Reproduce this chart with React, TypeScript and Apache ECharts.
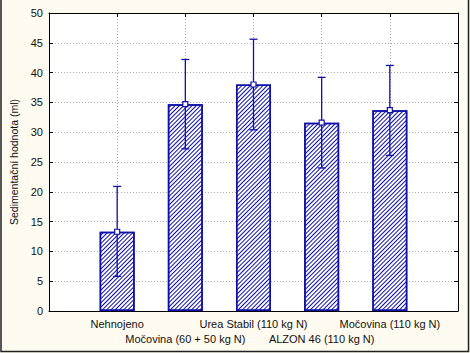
import React, { useEffect, useRef } from "react";
import * as echarts from "echarts";

const categories = [
  "Nehnojeno",
  "Močovina (60 + 50 kg N)",
  "Urea Stabil (110 kg N)",
  "ALZON 46 (110 kg N)",
  "Močovina (110 kg N)",
];
const positions = [1, 2, 3, 4, 5];
const means = [13.3, 34.7, 38.0, 31.6, 33.7];
const upper = [20.9, 42.2, 45.6, 39.2, 41.2];
const lower = [5.8, 27.2, 30.4, 24.0, 26.1];
const yTicks = { min: 0, max: 50, interval: 5 };

const BLUE = "#1010a8";

export default function App() {
  const ref = useRef<HTMLDivElement>(null);
  useEffect(() => {
    if (!ref.current) return;
    const chart = echarts.init(ref.current, null, { renderer: "svg" });
    const font = "Liberation Sans, Arial, sans-serif";
    const barData = positions.map((p, i) => [p, means[i]]);
    const errData = positions.map((p, i) => [p, lower[i], upper[i], means[i]]);
    chart.setOption({
      animation: false,
      backgroundColor: "#fffbf0",
      textStyle: { fontFamily: font },
      grid: {
        left: 45,
        right: 12,
        top: 13,
        bottom: 42,
        show: true,
        backgroundColor: "#ffffff",
        borderWidth: 0,
      },
      xAxis: [
        {
          type: "value",
          min: 0,
          max: 6,
          interval: 1,
          axisLine: { show: true, onZero: false, lineStyle: { color: "#000", width: 1 } },
          axisTick: { show: true, inside: true, length: 4, lineStyle: { color: "#000" } },
          splitLine: { show: true, lineStyle: { color: "#a8a8a8", type: [1, 2], width: 1 } },
          axisLabel: {
            color: "#111",
            fontSize: 11,
            fontFamily: font,
            margin: 5,
            lineHeight: 15,
            formatter: (v: number) => {
              const i = positions.indexOf(Math.round(v));
              if (i < 0) return "";
              return i % 2 === 0 ? categories[i] : "\n" + categories[i];
            },
          },
        },
        {
          type: "value",
          position: "top",
          min: 0,
          max: 6,
          interval: 1,
          axisLine: { show: true, onZero: false, lineStyle: { color: "#000", width: 1 } },
          axisTick: { show: true, inside: true, length: 4, lineStyle: { color: "#000" } },
          splitLine: { show: false },
          axisLabel: { show: false },
        },
      ],
      yAxis: [
        {
          type: "value",
          min: yTicks.min,
          max: yTicks.max,
          interval: yTicks.interval,
          name: "Sedimentační hodnota (ml)",
          nameLocation: "middle",
          nameGap: 30,
          nameTextStyle: { color: "#111", fontSize: 10.5, fontFamily: font },
          axisLine: { show: true, onZero: false, lineStyle: { color: "#000", width: 1 } },
          axisTick: { show: true, inside: true, length: 4, lineStyle: { color: "#000" } },
          splitLine: { show: true, lineStyle: { color: "#a8a8a8", type: [1, 2], width: 1 } },
          axisLabel: { color: "#111", fontSize: 11, fontFamily: font, margin: 6 },
        },
        {
          type: "value",
          position: "right",
          min: yTicks.min,
          max: yTicks.max,
          interval: yTicks.interval,
          axisLine: { show: true, onZero: false, lineStyle: { color: "#000", width: 1 } },
          axisTick: { show: true, inside: true, length: 4, lineStyle: { color: "#000" } },
          splitLine: { show: false },
          axisLabel: { show: false },
        },
      ],
      series: [
        {
          type: "bar",
          xAxisIndex: 0,
          yAxisIndex: 0,
          data: barData,
          barWidth: 35,
          itemStyle: {
            color: "#ffffff",
            borderColor: BLUE,
            borderWidth: 1.5,
            decal: {
              symbol: "rect",
              symbolSize: 1,
              dashArrayX: [1, 0],
              dashArrayY: [1, 2],
              rotation: -Math.PI / 4,
              color: BLUE,
            },
          },
        },
        {
          type: "custom",
          xAxisIndex: 0,
          yAxisIndex: 0,
          data: errData,
          z: 10,
          renderItem: (params: any, api: any) => {
            const x = api.value(0);
            const lo = api.coord([x, api.value(1)]);
            const hi = api.coord([x, api.value(2)]);
            const m = api.coord([x, api.value(3)]);
            const cw = 4;
            const ls = { stroke: BLUE, lineWidth: 1.3 };
            return {
              type: "group",
              children: [
                { type: "line", shape: { x1: lo[0], y1: lo[1], x2: hi[0], y2: hi[1] }, style: ls },
                { type: "line", shape: { x1: hi[0] - cw, y1: hi[1], x2: hi[0] + cw, y2: hi[1] }, style: ls },
                { type: "line", shape: { x1: lo[0] - cw, y1: lo[1], x2: lo[0] + cw, y2: lo[1] }, style: ls },
                {
                  type: "rect",
                  shape: { x: m[0] - 2.5, y: m[1] - 2.5, width: 5, height: 5 },
                  style: { fill: "#ffffff", stroke: BLUE, lineWidth: 1.2 },
                },
              ],
            };
          },
        },
      ],
      graphic: [
        {
          type: "polyline",
          shape: { points: [[1, 0], [1, 351.5], [468.5, 351.5], [468.5, 0]] },
          style: { stroke: "#222", lineWidth: 1.5, fill: "none" },
          silent: true,
        },
      ],
    });
    return () => chart.dispose();
  }, []);
  return (
    <div
      ref={ref}
      style={{ position: "fixed", left: 0, top: 0, width: 470, height: 353 }}
    />
  );
}
